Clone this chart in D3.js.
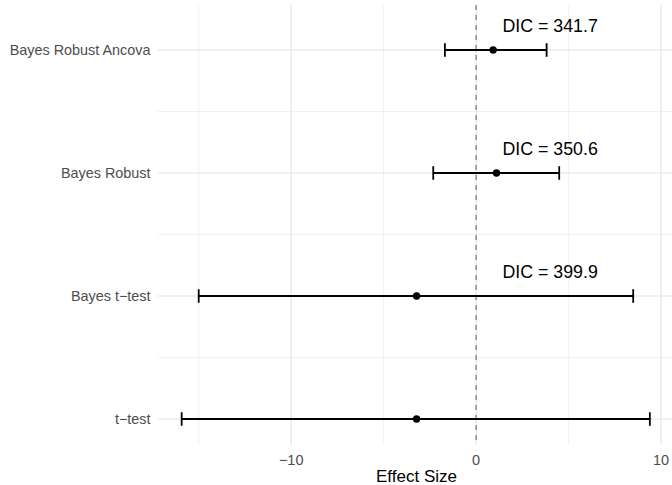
<!DOCTYPE html>
<html>
<head>
<meta charset="utf-8">
<script src="https://cdn.jsdelivr.net/npm/d3@7"></script>
<style>
  html, body { margin: 0; padding: 0; background: #fff; }
  svg { display: block; font-family: "Liberation Sans", Arial, sans-serif; }
</style>
</head>
<body>
<svg id="chart" width="672" height="485"></svg>
<script>
// Models, bottom to top
const models = ["t\u2212test", "Bayes t\u2212test", "Bayes Robust", "Bayes Robust Ancova"];
const estimate = [-3.22, -3.22, 1.10, 0.92];
const lower = [-15.92, -15.0, -2.32, -1.69];
const upper = [9.39, 8.49, 4.49, 3.81];
const dicLabels = [null, "DIC = 399.9", "DIC = 350.6", "DIC = 341.7"];
const dicX = 4;

const majorTicks = [-10, 0, 10];
const minorTicks = [-15, -5, 5];

const W = 672, H = 485;
const panel = { left: 158, right: 675, top: 5, bottom: 445 };

const svg = d3.select("#chart");

const x = d3.scaleLinear().domain([-17.2, 10.75]).range([panel.left, panel.right]);
// model index (1 = bottom) to vertical position
const y = d3.scaleLinear().domain([1, 4]).range([419, 50]);

const rows = models.map((m, i) => ({
  model: m, idx: i + 1, est: estimate[i], lo: lower[i], hi: upper[i], dic: dicLabels[i]
}));

const grid = svg.append("g");
// minor vertical grid
grid.selectAll("line.vminor").data(minorTicks).join("line")
  .attr("x1", d => x(d)).attr("x2", d => x(d))
  .attr("y1", panel.top).attr("y2", panel.bottom)
  .attr("stroke", "#f0f0f0").attr("stroke-width", 1);
// minor horizontal grid between models
grid.selectAll("line.hminor").data([1.5, 2.5, 3.5]).join("line")
  .attr("x1", panel.left).attr("x2", panel.right)
  .attr("y1", d => y(d)).attr("y2", d => y(d))
  .attr("stroke", "#f0f0f0").attr("stroke-width", 1);
// major vertical grid
grid.selectAll("line.vmajor").data(majorTicks).join("line")
  .attr("x1", d => x(d)).attr("x2", d => x(d))
  .attr("y1", panel.top).attr("y2", panel.bottom)
  .attr("stroke", "#ebebeb").attr("stroke-width", 1.6);
// major horizontal grid at each model
grid.selectAll("line.hmajor").data(rows).join("line")
  .attr("x1", panel.left).attr("x2", panel.right)
  .attr("y1", d => y(d.idx)).attr("y2", d => y(d.idx))
  .attr("stroke", "#ebebeb").attr("stroke-width", 1.6);

// reference line at zero
svg.append("line")
  .attr("x1", x(0)).attr("x2", x(0))
  .attr("y1", panel.top).attr("y2", panel.bottom)
  .attr("stroke", "#7f7f7f").attr("stroke-width", 1.3)
  .attr("stroke-dasharray", "5,5");

// error bars
const capHalf = 0.055;
const bars = svg.append("g").attr("stroke", "#000").attr("stroke-width", 1.8);
bars.selectAll("line.bar").data(rows).join("line")
  .attr("x1", d => x(d.lo)).attr("x2", d => x(d.hi))
  .attr("y1", d => y(d.idx)).attr("y2", d => y(d.idx));
bars.selectAll("line.capl").data(rows).join("line")
  .attr("x1", d => x(d.lo)).attr("x2", d => x(d.lo))
  .attr("y1", d => y(d.idx - capHalf)).attr("y2", d => y(d.idx + capHalf));
bars.selectAll("line.caph").data(rows).join("line")
  .attr("x1", d => x(d.hi)).attr("x2", d => x(d.hi))
  .attr("y1", d => y(d.idx - capHalf)).attr("y2", d => y(d.idx + capHalf));

// point estimates
svg.append("g").selectAll("circle").data(rows).join("circle")
  .attr("cx", d => x(d.est)).attr("cy", d => y(d.idx))
  .attr("r", 3.7).attr("fill", "#000");

// DIC annotations
svg.append("g").selectAll("text").data(rows.filter(d => d.dic)).join("text")
  .attr("x", x(dicX)).attr("y", d => y(d.idx + 0.195))
  .attr("text-anchor", "middle").attr("dy", "0.36em")
  .attr("font-size", "17.8px").attr("fill", "#000")
  .text(d => d.dic);

// x axis tick labels
svg.append("g").selectAll("text").data(majorTicks).join("text")
  .attr("x", d => x(d)).attr("y", 464.7)
  .attr("text-anchor", "middle")
  .attr("font-size", "14.5px").attr("fill", "#4d4d4d")
  .text(d => d < 0 ? "\u2212" + Math.abs(d) : String(d));

// y axis labels
svg.append("g").selectAll("text").data(rows).join("text")
  .attr("x", 150.5).attr("y", d => y(d.idx))
  .attr("text-anchor", "end").attr("dy", "0.36em")
  .attr("font-size", "14.4px").attr("fill", "#4d4d4d")
  .text(d => d.model);

// x axis title
svg.append("text")
  .attr("x", (panel.left + panel.right) / 2).attr("y", 481.5)
  .attr("text-anchor", "middle")
  .attr("font-size", "17px").attr("fill", "#000")
  .text("Effect Size");
</script>
</body>
</html>
